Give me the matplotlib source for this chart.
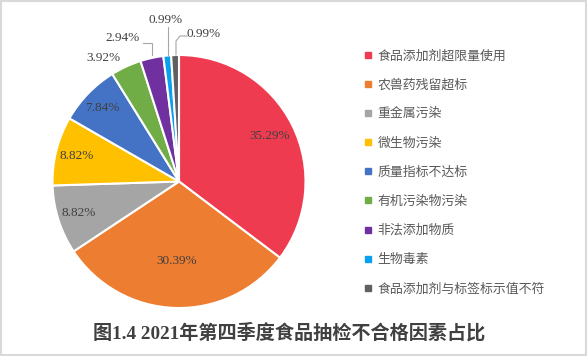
import numpy as np
import matplotlib
matplotlib.use("Agg")
import matplotlib.pyplot as plt
from matplotlib.lines import Line2D

categories = ["食品添加剂超限量使用", "农兽药残留超标", "重金属污染", "微生物污染",
              "质量指标不达标", "有机污染物污染", "非法添加物质", "生物毒素",
              "食品添加剂与标签标示值不符"]
values = [35.29, 30.39, 8.82, 8.82, 7.84, 3.92, 2.94, 0.99, 0.99]
labels = ["35.29%", "30.39%", "8.82%", "8.82%", "7.84%", "3.92%", "2.94%", "0.99%", "0.99%"]
colors = ["#EE3B4F", "#ED7D31", "#A5A5A5", "#FFC000", "#4472C4", "#70AD47",
          "#7030A0", "#0AA0F0", "#606060"]
title = "图1.4 2021年第四季度食品抽检不合格因素占比"

W, H = 588, 356
fig = plt.figure(figsize=(W / 100, H / 100), dpi=100)
cx, cy, R = 179, 181.5, 126.5
ax = fig.add_axes([0, 0, 1, 1])
ax.axis("off")

wedges, _ = ax.pie(values, colors=colors, startangle=90, counterclock=False,
                   radius=1.0, center=(0, 0), frame=False,
                   wedgeprops=dict(edgecolor="white", linewidth=1.5))
ax.set_xlim(-cx / R, (W - cx) / R)
ax.set_ylim((cy - H) / R, cy / R)
ax.set_aspect("auto")

lab_font = dict(family=["Liberation Serif", "DejaVu Serif"], fontsize=9.5, color="#404040")
# inside labels: radius fraction per slice
inside_r = [0.80, 0.63, 0.83, 0.83, 0.84]
for i, w in enumerate(wedges[:5]):
    mid = np.deg2rad((w.theta1 + w.theta2) / 2)
    r = inside_r[i]
    ax.text(r * np.cos(mid), r * np.sin(mid), labels[i], ha="center", va="center", **lab_font)

def px(x, y):
    return (x - cx) / R, (cy - y) / R

# outside labels (pixel positions of label centres) and leader lines
out_pos = [(103, 58), (123, 38), (166, 20), (204, 34)]
leaders = [None,
           [(152, 55), (152, 43), (143, 43)],
           [(167.6, 55), (167.6, 27)],
           [(176, 55), (176, 41), (180, 36), (187, 36)]]
for k, i in enumerate(range(5, 9)):
    x, y = px(*out_pos[k])
    ax.text(x, y, labels[i], ha="center", va="center", **lab_font)
    if leaders[k] is not None:
        pts = np.array([px(a, b) for a, b in leaders[k]])
        ax.plot(pts[:, 0], pts[:, 1], color="#A6A6A6", lw=0.8)

handles = [Line2D([0], [0], marker="s", color="none", markerfacecolor=c,
                  markeredgecolor=c, markersize=4.5) for c in colors]
leg = fig.legend(handles, categories, loc="upper left",
                 bbox_to_anchor=(359 / W, 1 - 44 / H), frameon=False,
                 handlelength=0.6, handletextpad=0.45, labelspacing=1.25,
                 borderaxespad=0,
                 prop=dict(family=["Noto Sans CJK SC", "DejaVu Sans"], size=9.3))
for t in leg.get_texts():
    t.set_color("#595959")

fig.text(289 / W, 1 - 333 / H, title, ha="center", va="center",
         fontsize=13.8, fontweight="bold", color="#404040",
         family=["Liberation Serif", "Noto Sans CJK SC"])

# light border around the figure
fig.patches.append(plt.Rectangle((0.001, 0.002), 0.996, 0.995, transform=fig.transFigure,
                                 fill=False, edgecolor="#D9D9D9", lw=1.5))

fig.savefig("out.png", dpi=100, facecolor="white")
